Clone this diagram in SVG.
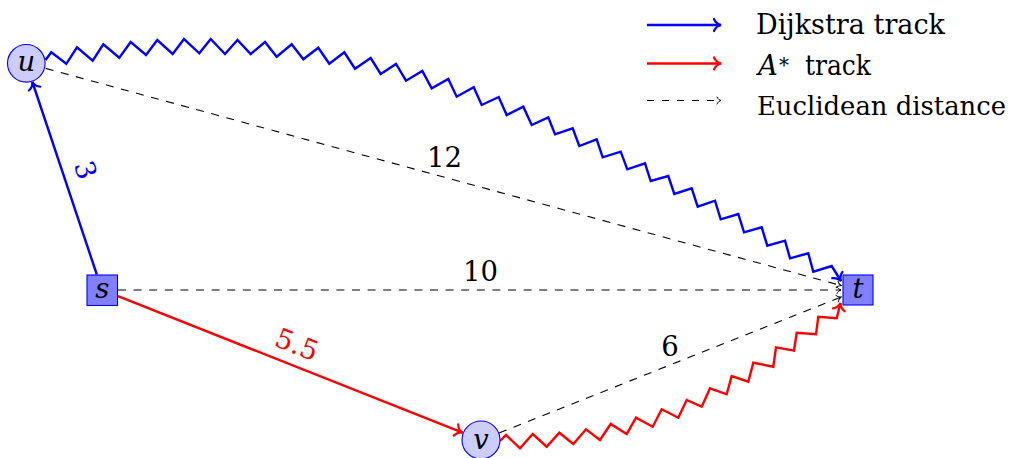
<svg xmlns="http://www.w3.org/2000/svg" width="1014" height="458" viewBox="0 0 1014 458">
<style>
  text { font-family: "DejaVu Serif", "Liberation Serif", serif; font-size: 27.5px; fill: #000; }
  .it { font-style: italic; }
  .thickb { fill: none; stroke: #0000ff; stroke-width: 2.4; stroke-linejoin: miter; }
  .thickr { fill: none; stroke: #ff0000; stroke-width: 2.4; stroke-linejoin: miter; }
  .dash { fill: none; stroke: #000; stroke-width: 1.1; stroke-dasharray: 8 7.6; }
  .circ { fill: #ccccff; stroke: #0000ff; stroke-width: 1.1; }
  .sq { fill: #8080ff; stroke: #0000ff; stroke-width: 1.1; }
</style>
<defs>
  <marker id="ab" markerUnits="userSpaceOnUse" viewBox="-10 -8 12 16" markerWidth="12" markerHeight="16" refX="0" refY="0" orient="auto" overflow="visible">
    <path d="M-7,-6 C-5.5,-2.5 -2.5,-0.6 0,0 C-2.5,0.6 -5.5,2.5 -7,6" fill="none" stroke="#0000ff" stroke-width="2.2" stroke-linecap="round"/>
  </marker>
  <marker id="ar" markerUnits="userSpaceOnUse" viewBox="-10 -8 12 16" markerWidth="12" markerHeight="16" refX="0" refY="0" orient="auto" overflow="visible">
    <path d="M-7,-6 C-5.5,-2.5 -2.5,-0.6 0,0 C-2.5,0.6 -5.5,2.5 -7,6" fill="none" stroke="#ff0000" stroke-width="2.2" stroke-linecap="round"/>
  </marker>
  <marker id="ak" markerUnits="userSpaceOnUse" viewBox="-6 -5 8 10" markerWidth="8" markerHeight="10" refX="0" refY="0" orient="auto" overflow="visible">
    <path d="M-4,-3.5 C-3.3,-1.5 -1.3,-0.4 0,0 C-1.3,0.4 -3.3,1.5 -4,3.5" fill="none" stroke="#000" stroke-width="1" stroke-dasharray="none" stroke-linecap="round"/>
  </marker>
</defs>

<g id="connectors">
  <line class="dash" x1="45.7" y1="68.4" x2="841" y2="285.5" marker-end="url(#ak)"/>
  <line class="dash" x1="118" y1="290" x2="841" y2="290" marker-end="url(#ak)"/>
  <line class="dash" x1="499" y1="433" x2="841" y2="297" marker-end="url(#ak)"/>
  <line class="thickb" x1="96.8" y1="274.5" x2="32.4" y2="82" marker-end="url(#ab)"/>
  <line class="thickr" x1="118" y1="296.2" x2="462.5" y2="432.6" marker-end="url(#ar)"/>
  <polyline class="thickb" marker-end="url(#ab)" points="45.5,60 51.3,52.3 66.3,63.8 77,47.3 92.7,60.7 103.3,44.3 119.3,57.7 130.7,42 146,55 157.3,40 172.7,54 184,39 199.3,53.3 210.7,39 225,54 237.5,40 250.7,54 265,42 276.7,56.7 291.7,44.3 303.3,59.3 318.3,47.7 329.3,63.7 344.3,52.3 355,68.7 370.7,58 380.7,74 396,64 406,80.7 422.3,71 431.7,88.3 448.3,79 456.7,96.7 473.7,87.3 481.7,105 498.7,97 506.7,115 523.3,106.7 531.7,125 548.3,117.3 555,134.3 572.7,128.3 579.3,146 596.7,139.3 602.7,157.3 620.7,151.7 627.3,169.3 645,163.3 650.7,181 668.3,176 674.3,194 691.7,188.3 697.7,206.7 715,200.7 720.7,219.3 738.3,214 744,232.3 761.7,227.3 767.3,245.7 785,240.7 790,258.3 808.3,253.3 813.3,271.7 831.7,266 841,281"/>
  <polyline class="thickr" marker-end="url(#ar)" points="500,441 506,435 520,448.3 532.7,434 546.7,446.7 559.3,432.7 573.3,444 586,429.3 600,440 610.7,424 626.7,434 636,417.7 652.7,426.7 661.7,409.3 678.3,417.7 686.7,400 701.7,406.7 710,388.3 726.7,394.3 731.7,376 748.3,381.7 753.3,362.7 773.3,366.7 776,347.3 794,350.7 796.7,332.7 816,334.3 818.3,316.7 836.7,318.3 840.5,303"/>
  <text transform="translate(86,170) rotate(72)" x="0" y="10" text-anchor="middle" style="fill:#0000ff">3</text>
  <text transform="translate(297,344) rotate(21.6)" x="0" y="10" text-anchor="middle" style="fill:#ff0000">5.5</text>
  <text x="444.5" y="166.5" text-anchor="middle">12</text>
  <text x="480.5" y="280.5" text-anchor="middle">10</text>
  <text x="670" y="355.5" text-anchor="middle">6</text>
</g>

<g id="node-u">
  <circle class="circ" cx="26.3" cy="63.3" r="18.8"/>
  <text class="it" x="26.3" y="70.5" text-anchor="middle">u</text>
</g>
<g id="node-s">
  <rect class="sq" x="87" y="275" width="30.5" height="30.5"/>
  <text class="it" x="102.3" y="298" text-anchor="middle">s</text>
</g>
<g id="node-t">
  <rect class="sq" x="843" y="275" width="30" height="30"/>
  <text class="it" x="858" y="298" text-anchor="middle">t</text>
</g>
<g id="node-v">
  <circle class="circ" cx="481" cy="440" r="19"/>
  <text class="it" x="481" y="449" text-anchor="middle">v</text>
</g>

<g id="legend">
  <line class="thickb" x1="647" y1="25" x2="721" y2="25" marker-end="url(#ab)"/>
  <line class="thickr" x1="647" y1="63.5" x2="721" y2="63.5" marker-end="url(#ar)"/>
  <line class="dash" x1="647" y1="100.5" x2="721" y2="100.5" marker-end="url(#ak)" style="stroke-dasharray:7 8"/>
  <text x="756" y="34.3" textLength="189" lengthAdjust="spacingAndGlyphs">Dijkstra track</text>
  <text class="it" x="758" y="75">A</text>
  <text x="779" y="72" style="font-size:20px">*</text>
  <text x="805" y="75" textLength="66" lengthAdjust="spacingAndGlyphs">track</text>
  <text x="757" y="115" style="font-size:26px" textLength="249" lengthAdjust="spacingAndGlyphs">Euclidean distance</text>
</g>
</svg>
